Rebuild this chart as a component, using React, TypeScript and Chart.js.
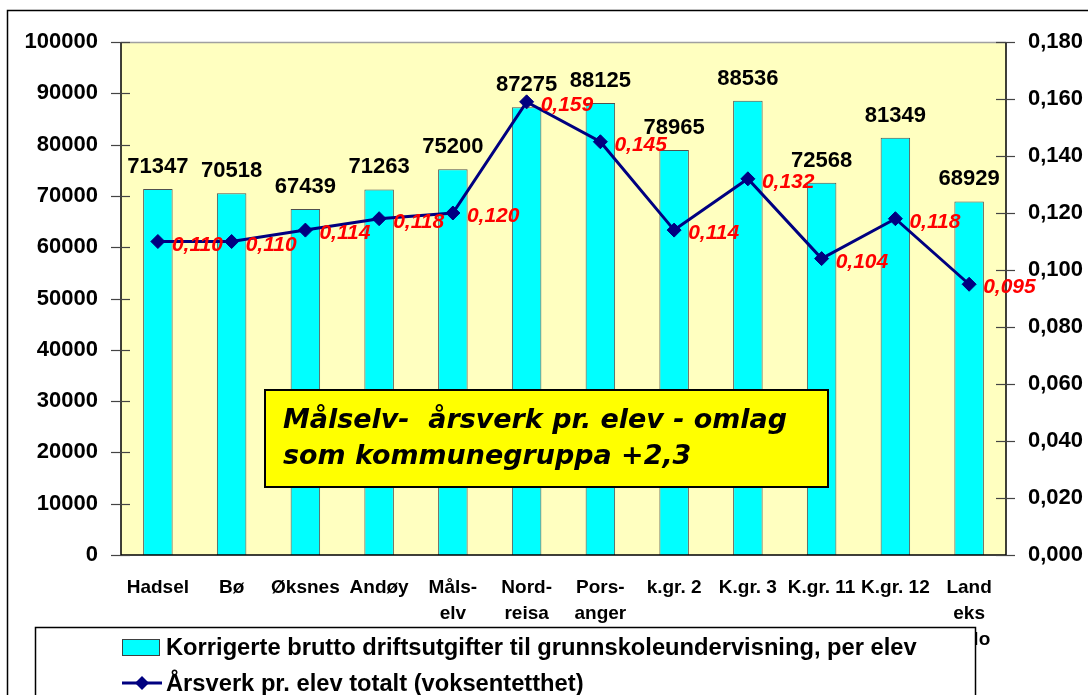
import React, { useEffect, useRef } from 'react';
import { Chart, registerables } from 'chart.js';

Chart.register(...registerables);

const categories: string[][] = [
  ['Hadsel'], ['Bø'], ['Øksnes'], ['Andøy'], ['Måls-', 'elv'], ['Nord-', 'reisa'],
  ['Pors-', 'anger'], ['k.gr. 2'], ['K.gr. 3'], ['K.gr. 11'], ['K.gr. 12'], ['Land', 'eks', 'Oslo'],
];
const costPerPupil = [71347, 70518, 67439, 71263, 75200, 87275, 88125, 78965, 88536, 72568, 81349, 68929];
const fteValues = [0.110, 0.110, 0.114, 0.118, 0.120, 0.159, 0.145, 0.114, 0.132, 0.104, 0.118, 0.095];
const leftAxisMax = 100000;
const leftAxisStep = 10000;
const rightAxisMax = 0.18;
const rightAxisStep = 0.02;
const barLabel = 'Korrigerte brutto driftsutgifter til grunnskoleundervisning, per elev';
const lineLabel = 'Årsverk pr. elev totalt (voksentetthet)';
const noteLines = ['Målselv-  årsverk pr. elev - omlag', 'som kommunegruppa +2,3'];

const FONT = '"Liberation Sans", Arial, sans-serif';
const fmt3 = (v: number) => v.toFixed(3).replace('.', ',');

const decorPlugin = {
  id: 'decor',
  beforeDraw(chart: any) {
    const { ctx, chartArea: a } = chart;
    ctx.save();
    ctx.fillStyle = '#ffffff';
    ctx.fillRect(0, 0, chart.width, chart.height);
    ctx.fillStyle = '#FFFFC0';
    ctx.fillRect(a.left, a.top, a.right - a.left, a.bottom - a.top);
    ctx.restore();
  },
  afterDraw(chart: any) {
    const { ctx, chartArea: a } = chart;
    ctx.save();
    // top border of plot area
    ctx.strokeStyle = '#a0a0a0';
    ctx.lineWidth = 1.5;
    ctx.beginPath();
    ctx.moveTo(a.left, a.top + 0.5);
    ctx.lineTo(a.right, a.top + 0.5);
    ctx.stroke();
    // axes
    ctx.strokeStyle = '#000000';
    ctx.lineWidth = 1.5;
    ctx.beginPath();
    ctx.moveTo(a.left, a.top);
    ctx.lineTo(a.left, a.bottom);
    ctx.lineTo(a.right, a.bottom);
    ctx.moveTo(a.right, a.top);
    ctx.lineTo(a.right, a.bottom);
    ctx.stroke();
    // cross ticks
    ctx.strokeStyle = '#444444';
    ctx.lineWidth = 1.2;
    const ys = chart.scales.y;
    ys.ticks.forEach((t: any) => {
      const py = Math.round(ys.getPixelForValue(t.value)) + 0.5;
      ctx.beginPath();
      ctx.moveTo(a.left - 10, py);
      ctx.lineTo(a.left + 9, py);
      ctx.stroke();
    });
    const ys1 = chart.scales.y1;
    ys1.ticks.forEach((t: any) => {
      const py = Math.round(ys1.getPixelForValue(t.value)) + 0.5;
      ctx.beginPath();
      ctx.moveTo(a.right - 10, py);
      ctx.lineTo(a.right + 9, py);
      ctx.stroke();
    });

    // bar value labels
    const barMeta = chart.getDatasetMeta(0);
    ctx.fillStyle = '#000000';
    ctx.font = `bold 22px ${FONT}`;
    ctx.textAlign = 'center';
    ctx.textBaseline = 'alphabetic';
    barMeta.data.forEach((el: any, i: number) => {
      ctx.fillText(String(chart.data.datasets[0].data[i]), el.x, el.y - 16);
    });
    // line value labels
    const lineMeta = chart.getDatasetMeta(1);
    ctx.fillStyle = '#ff0000';
    ctx.font = `italic bold 21px ${FONT}`;
    ctx.textAlign = 'left';
    lineMeta.data.forEach((el: any, i: number) => {
      ctx.fillText(fmt3(chart.data.datasets[1].data[i]), el.x + 14, el.y + 9);
    });

    // note box
    ctx.fillStyle = '#FFFF00';
    ctx.fillRect(265, 390, 563, 97);
    ctx.strokeStyle = '#000000';
    ctx.lineWidth = 2;
    ctx.strokeRect(265, 390, 563, 97);
    ctx.fillStyle = '#000000';
    ctx.textBaseline = 'middle';
    ctx.textAlign = 'left';
    ctx.font = `italic bold 100px "DejaVu Sans", Verdana, sans-serif`;
    const w1 = ctx.measureText(noteLines[0]).width;
    const noteSize = (504 / w1) * 100;
    ctx.font = `italic bold ${noteSize.toFixed(2)}px "DejaVu Sans", Verdana, sans-serif`;
    ctx.fillText(noteLines[0], 283, 421);
    ctx.fillText(noteLines[1], 283, 457);

    // legend
    ctx.fillStyle = '#ffffff';
    ctx.fillRect(35, 627, 940, 100);
    ctx.strokeStyle = '#000000';
    ctx.lineWidth = 1.5;
    ctx.strokeRect(35.5, 627.5, 940, 100);
    ctx.fillStyle = '#00FFFF';
    ctx.fillRect(122, 639, 38, 17);
    ctx.strokeStyle = '#404040';
    ctx.lineWidth = 1;
    ctx.strokeRect(122.5, 639.5, 37, 16);
    ctx.strokeStyle = '#000080';
    ctx.lineWidth = 3;
    ctx.beginPath();
    ctx.moveTo(122, 683);
    ctx.lineTo(162, 683);
    ctx.stroke();
    ctx.fillStyle = '#000080';
    ctx.beginPath();
    ctx.moveTo(142 - 7, 683);
    ctx.lineTo(142, 683 - 7);
    ctx.lineTo(142 + 7, 683);
    ctx.lineTo(142, 683 + 7);
    ctx.closePath();
    ctx.fill();
    ctx.fillStyle = '#000000';
    ctx.font = `bold 100px ${FONT}`;
    const lw = ctx.measureText(chart.data.datasets[0].label).width;
    const legSize = (751 / lw) * 100;
    ctx.font = `bold ${legSize.toFixed(2)}px ${FONT}`;
    ctx.fillText(chart.data.datasets[0].label, 166, 648);
    ctx.fillText(chart.data.datasets[1].label, 166, 684);

    // outer frame
    ctx.strokeStyle = '#000000';
    ctx.lineWidth = 1.5;
    ctx.strokeRect(7.5, 10.5, 1200, 800);
    ctx.restore();
  },
};

export default function App() {
  const canvasRef = useRef<HTMLCanvasElement | null>(null);

  useEffect(() => {
    document.body.style.margin = '0';
    const canvas = canvasRef.current;
    if (!canvas) return;
    const chart = new Chart(canvas, {
      type: 'bar',
      data: {
        labels: categories,
        datasets: [
          {
            type: 'bar',
            label: barLabel,
            data: costPerPupil,
            backgroundColor: '#00FFFF',
            borderColor: '#505050',
            borderWidth: 1,
            barPercentage: 0.4,
            categoryPercentage: 1,
            yAxisID: 'y',
            order: 1,
          },
          {
            type: 'line',
            label: lineLabel,
            data: fteValues,
            borderColor: '#000080',
            backgroundColor: '#000080',
            borderWidth: 3,
            pointStyle: 'rectRot',
            pointRadius: 7,
            pointBorderWidth: 1,
            pointBackgroundColor: '#000080',
            pointBorderColor: '#000080',
            yAxisID: 'y1',
            tension: 0,
            order: 0,
          } as any,
        ],
      },
      options: {
        animation: false,
        responsive: false,
        maintainAspectRatio: false,
        layout: { padding: { top: 42, left: 0, right: 0, bottom: 0 } },
        plugins: { legend: { display: false }, tooltip: { enabled: false } },
        scales: {
          x: {
            grid: { display: false, drawTicks: false },
            border: { display: false },
            ticks: {
              autoSkip: false,
              maxRotation: 0,
              minRotation: 0,
              padding: 20,
              color: '#000000',
              font: { family: FONT, size: 19, weight: 'bold', lineHeight: 26 / 19 } as any,
            },
            afterFit: (s: any) => { s.height = 140; },
          },
          y: {
            position: 'left',
            min: 0,
            max: leftAxisMax,
            grid: { display: false, drawTicks: false },
            border: { display: false },
            ticks: {
              stepSize: leftAxisStep,
              padding: 23,
              color: '#000000',
              font: { family: FONT, size: 22, weight: 'bold' } as any,
              callback: (v: any) => String(v),
            },
            afterFit: (s: any) => { s.width = 121; },
          },
          y1: {
            position: 'right',
            min: 0,
            max: rightAxisMax,
            grid: { display: false, drawTicks: false },
            border: { display: false },
            ticks: {
              stepSize: rightAxisStep,
              padding: 22,
              color: '#000000',
              font: { family: FONT, size: 22, weight: 'bold' } as any,
              callback: (v: any) => fmt3(Number(v)),
            },
            afterFit: (s: any) => { s.width = 82; },
          },
        },
      },
      plugins: [decorPlugin],
    });
    return () => chart.destroy();
  }, []);

  return (
    <div style={{ width: 1088, height: 695 }}>
      <canvas ref={canvasRef} width={1088} height={695} style={{ display: 'block' }} />
    </div>
  );
}
